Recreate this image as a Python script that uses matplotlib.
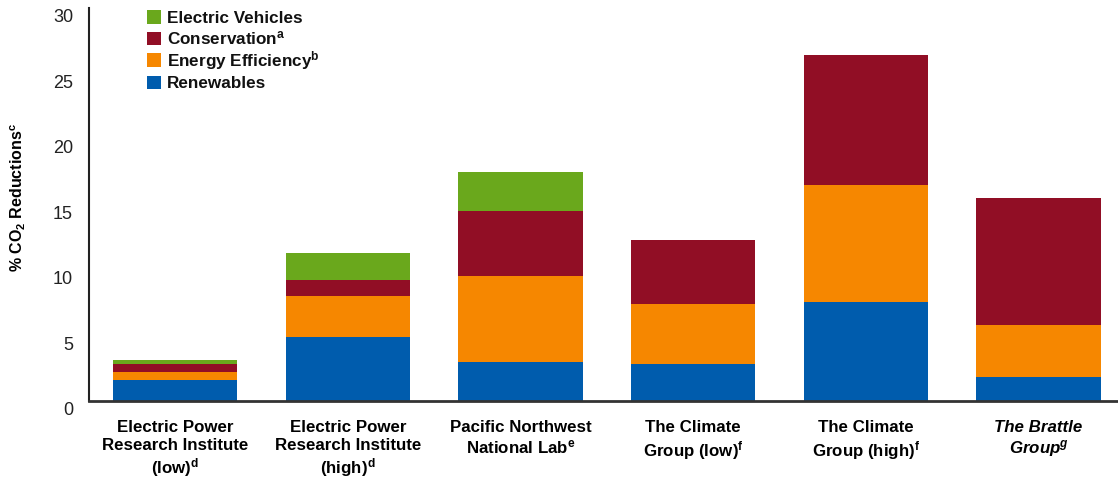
import matplotlib
matplotlib.use("Agg")
import matplotlib.pyplot as plt
import matplotlib.transforms as mtransforms
from matplotlib.patches import Rectangle
import numpy as np

plt.rcParams['font.family'] = ['Liberation Sans', 'DejaVu Sans']
plt.rcParams['mathtext.fontset'] = 'custom'
plt.rcParams['mathtext.rm'] = 'Liberation Sans'
plt.rcParams['mathtext.bf'] = 'Liberation Sans:bold'
plt.rcParams['mathtext.it'] = 'Liberation Sans:italic:bold'

# data (% CO2 reductions)
studies = ['Electric Power\nResearch Institute\n(low)$^{\\mathbf{d}}$',
           'Electric Power\nResearch Institute\n(high)$^{\\mathbf{d}}$',
           'Pacific Northwest\nNational Lab$^{\\mathbf{e}}$',
           'The Climate\nGroup (low)$^{\\mathbf{f}}$',
           'The Climate\nGroup (high)$^{\\mathbf{f}}$',
           'The Brattle\nGroup$^{\\mathit{g}}$']
renewables = [1.57, 4.85, 2.97, 2.77, 7.55, 1.77]
efficiency = [0.63, 3.11, 6.52, 4.61, 8.92, 4.02]
conservation = [0.59, 1.25, 4.97, 4.89, 9.92, 9.67]
vehicles = [0.31, 2.04, 3.01, 0, 0, 0]

series_names = ['Renewables', 'Energy Efficiency$^{\\mathbf{b}}$',
                'Conservation$^{\\mathbf{a}}$', 'Electric Vehicles']
series_colors = ['#005cad', '#f68700', '#910e25', '#6aa81c']

W, H = 1118, 482
fig = plt.figure(figsize=(W/100, H/100), dpi=100)
ax = fig.add_axes([89/W, 1-400.5/H, 1-89/W, (400.5-8)/H])

x = np.arange(len(studies))
w = 0.72
b = np.zeros(len(x))
for vals, col in zip([renewables, efficiency, conservation, vehicles], series_colors):
    ax.bar(x, vals, w, bottom=b, color=col, linewidth=0)
    b = b + np.array(vals)

ax.set_xlim(-0.5, 5.46)
ax.set_ylim(0, 30)
ax.set_yticks([0, 5, 10, 15, 20, 25, 30])
ax.tick_params(axis='y', length=0, pad=11.5, labelsize=13, labelcolor='#222222')
ax.tick_params(axis='x', length=0, pad=14)
ax.set_xticks(x)
ax.set_xticklabels(studies, fontsize=12.2, fontweight='bold', linespacing=1.22)
ax.get_xticklabels()[5].set_style('italic')

# tick labels sit a little below their gridline in the original
off = mtransforms.ScaledTranslation(0, -8/100, fig.dpi_scale_trans)
for t in ax.get_yticklabels():
    t.set_transform(t.get_transform() + off)

for s in ['top', 'right']:
    ax.spines[s].set_visible(False)
ax.spines['left'].set_linewidth(1.5)
ax.spines['left'].set_color('#222222')
ax.spines['bottom'].set_linewidth(2)
ax.spines['bottom'].set_color('#333333')

fig.text(18/W, 1-197/H, '% CO$_{\\mathbf{2}}$ Reductions$^{\\mathbf{c}}$',
         rotation=90, ha='center', va='center', fontsize=11.5, fontweight='bold')

# legend, top row = last series, drawn by hand so rows stay evenly spaced
row_y = [17, 38.5, 60, 82]
for i, (name, col) in enumerate(zip(series_names[::-1], series_colors[::-1])):
    yc = row_y[i]
    fig.add_artist(Rectangle((147/W, 1-(yc+6.5)/H), 13.5/W, 13/H,
                             transform=fig.transFigure, color=col, lw=0))
    fig.text(167/W, 1-(yc+6)/H, name, va='baseline', ha='left',
             fontsize=12.3, fontweight='bold', color='#111111')

fig.savefig('out.png', dpi=100)
